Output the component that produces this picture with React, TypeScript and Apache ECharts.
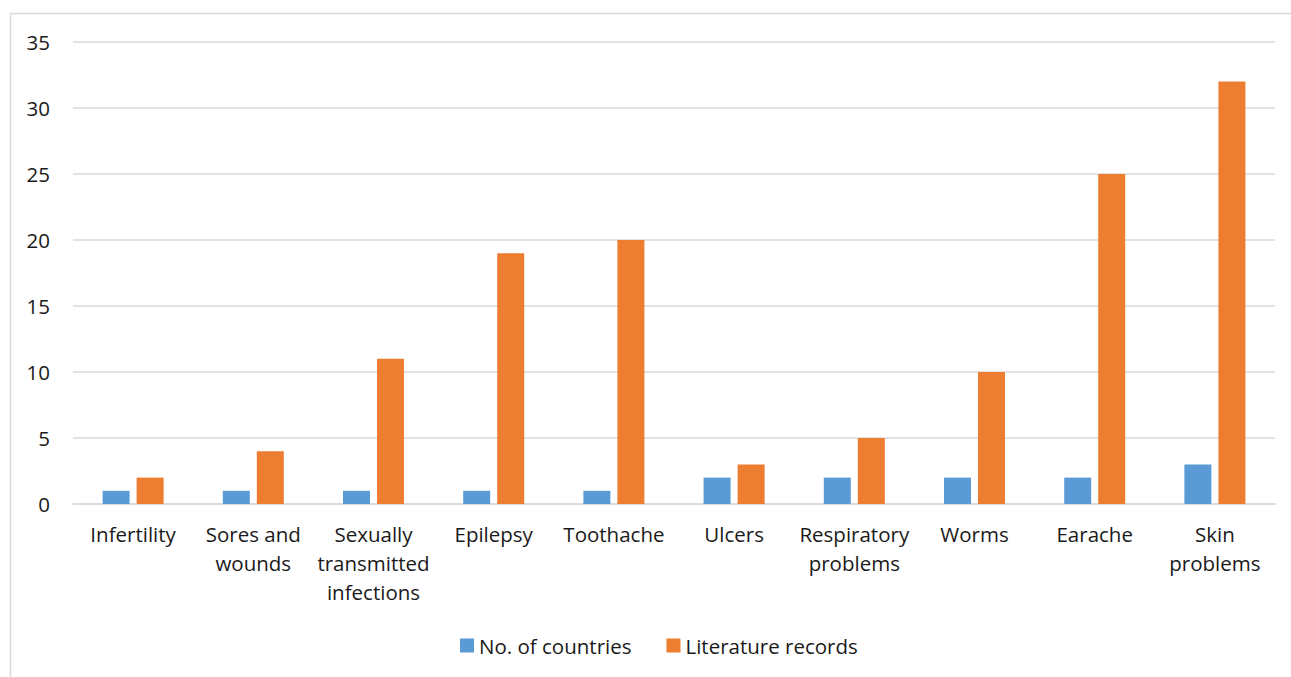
import React, { useEffect, useRef } from "react";
import * as echarts from "echarts";

const categories = [
  "Infertility",
  "Sores and\nwounds",
  "Sexually\ntransmitted\ninfections",
  "Epilepsy",
  "Toothache",
  "Ulcers",
  "Respiratory\nproblems",
  "Worms",
  "Earache",
  "Skin\nproblems",
];
const countries = [1, 1, 1, 1, 1, 2, 2, 2, 2, 3];
const literature = [2, 4, 11, 19, 20, 3, 5, 10, 25, 32];
const seriesNames = ["No. of countries", "Literature records"];

const FONT = "'Open Sans', 'Noto Sans', sans-serif";
const TEXT = "#1a1a1a";
const FS = 20.5;

export default function App() {
  const ref = useRef<HTMLDivElement>(null);
  useEffect(() => {
    if (!ref.current) return;
    const chart = echarts.init(ref.current, undefined, { renderer: "svg" });
    chart.setOption({
      animation: false,
      backgroundColor: "#ffffff",
      graphic: [
        {
          type: "rect",
          shape: { x: 10.5, y: 13.5, width: 1300, height: 700 },
          style: { fill: "none", stroke: "#d9d9d9", lineWidth: 1.5 },
          silent: true,
        },
      ],
      grid: { left: 73, right: 16, top: 42, bottom: 173, containLabel: false },
      legend: {
        data: seriesNames,
        top: 630,
        left: 455,
        itemWidth: 14,
        itemHeight: 14,
        itemGap: 35,
        icon: "rect",
        textStyle: { fontFamily: FONT, fontSize: FS, color: TEXT, padding: [0, 0, 0, 0] },
      },
      xAxis: {
        type: "category",
        data: categories,
        axisLine: { lineStyle: { color: "#d9d9d9", width: 1.5 } },
        axisTick: { show: false },
        axisLabel: {
          fontFamily: FONT,
          fontSize: FS,
          color: TEXT,
          lineHeight: 29,
          margin: 15,
          interval: 0,
          align: "center",
        },
      },
      yAxis: {
        type: "value",
        min: 0,
        max: 35,
        interval: 5,
        axisLine: { show: false },
        axisTick: { show: false },
        splitLine: { lineStyle: { color: "#d9d9d9", width: 1.5 } },
        axisLabel: { fontFamily: FONT, fontSize: FS, color: TEXT, margin: 23 },
      },
      series: [
        {
          name: seriesNames[0],
          type: "bar",
          data: countries,
          barWidth: 27,
          barGap: "26%",
          itemStyle: { color: "#5b9bd5" },
        },
        {
          name: seriesNames[1],
          type: "bar",
          data: literature,
          barWidth: 27,
          barGap: "26%",
          itemStyle: { color: "#ed7d31" },
        },
      ],
    });
    return () => chart.dispose();
  }, []);
  return (
    <div
      ref={ref}
      style={{ position: "absolute", left: 0, top: 0, width: 1291, height: 677 }}
    />
  );
}
